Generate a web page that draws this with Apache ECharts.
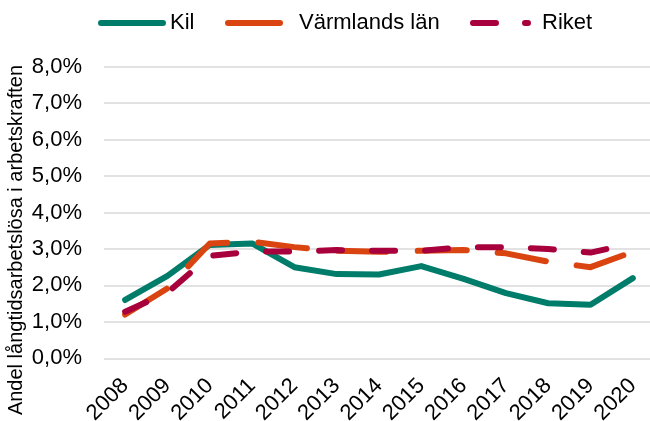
<!DOCTYPE html>
<html><head><meta charset="utf-8">
<script src="https://cdn.jsdelivr.net/npm/echarts@6/dist/echarts.min.js"></script>
<style>html,body{margin:0;padding:0;background:#fff}#c{width:650px;height:421px}</style>
</head><body><div id="c"></div>
<script>
const categories = ['2008','2009','2010','2011','2012','2013','2014','2015','2016','2017','2018','2019','2020'];
const kil = [1.60, 2.26, 3.11, 3.15, 2.50, 2.31, 2.30, 2.53, 2.18, 1.79, 1.51, 1.47, 2.20];
const varmland = [1.20, 1.92, 3.15, 3.20, 3.05, 2.95, 2.92, 2.95, 2.97, 2.88, 2.65, 2.50, 2.92];
const riket = [1.28, 1.80, 2.81, 2.93, 2.93, 2.97, 2.95, 2.95, 3.05, 3.05, 3.00, 2.90, 3.16];
const yTicks = [0, 1, 2, 3, 4, 5, 6, 7, 8];
const seriesNames = ['Kil', 'Värmlands län', 'Riket'];
const yTitle = 'Andel långtidsarbetslösa i arbetskraften';
const colors = ['#007C6B', '#D94411', '#A8003C'];

const chart = echarts.init(document.getElementById('c'), null, {renderer: 'canvas'});
const font = 'Liberation Sans, Arial, sans-serif';
const iconKil = 'path://M3,0H65A3,3,0,0,1,65,6H3A3,3,0,0,1,3,0Z';
const iconVarm = 'path://M3,0H55A3,3,0,0,1,55,6H3A3,3,0,0,1,3,0Z';
const iconRiket = 'path://M3,0H26A3,3,0,0,1,26,6H3A3,3,0,0,1,3,0Z M55,0H58A3,3,0,0,1,58,6H55A3,3,0,0,1,55,0Z';
const legendText = {fontSize: 22, color: '#000', fontFamily: font};
const option = {
  animation: false,
  textStyle: {fontFamily: font},
  grid: {left: 104, top: 66.7, width: 550, height: 291.6, containLabel: false, outerBoundsMode: 'none'},
  legend: [
    {data: [{name: seriesNames[0], icon: iconKil}], left: 98, top: 12, padding: 0, itemWidth: 68, itemHeight: 6,
     textStyle: Object.assign({}, legendText, {padding: [0,0,0,-1]})},
    {data: [{name: seriesNames[1], icon: iconVarm}], left: 225, top: 12, padding: 0, itemWidth: 58, itemHeight: 6,
     textStyle: Object.assign({}, legendText, {padding: [0,0,0,11]})},
    {data: [{name: seriesNames[2], icon: iconRiket}], left: 470, top: 12, padding: 0, itemWidth: 61, itemHeight: 6,
     textStyle: Object.assign({}, legendText, {padding: [0,0,0,6]})}
  ],
  xAxis: {
    type: 'category', data: categories, boundaryGap: true,
    axisLine: {show: false}, axisTick: {show: false},
    axisLabel: {rotate: 45, fontSize: 22, color: '#000', margin: 24, fontFamily: font, interval: 0}
  },
  yAxis: {
    type: 'value', min: yTicks[0], max: yTicks[yTicks.length-1], interval: 1,
    axisLine: {show: false}, axisTick: {show: false},
    splitLine: {lineStyle: {color: '#D9D9D9', width: 1.5}},
    axisLabel: {fontSize: 22, color: '#000', margin: 22, fontFamily: font,
      formatter: v => v.toFixed(1).replace('.', ',') + '%'}
  },
  graphic: [{
    type: 'text', x: 16, y: 240, rotation: Math.PI / 2,
    style: {text: yTitle, fontSize: 20, fill: '#000', fontFamily: font, align: 'center', verticalAlign: 'middle'}
  }],
  series: [
    {name: seriesNames[0], type: 'line', data: kil, symbol: 'none', color: colors[0],
     lineStyle: {width: 6, color: colors[0], cap: 'round', join: 'round'}},
    {name: seriesNames[1], type: 'line', data: varmland, symbol: 'none', color: colors[1],
     lineStyle: {width: 6, color: colors[1], type: [49, 31], cap: 'round', join: 'round'}},
    {name: seriesNames[2], type: 'line', data: riket, symbol: 'none', color: colors[2],
     lineStyle: {width: 6, color: colors[2], type: [23, 30], cap: 'round', join: 'round'}}
  ]
};
chart.setOption(option);
</script></body></html>
